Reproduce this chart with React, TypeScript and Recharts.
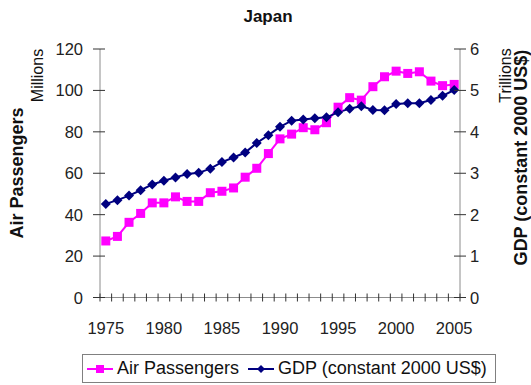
import React from 'react';
import { ComposedChart, Line, XAxis, YAxis, Legend } from 'recharts';

const years = [
    1975, 1976, 1977, 1978, 1979, 1980, 1981, 1982, 1983, 1984, 1985,
    1986, 1987, 1988, 1989, 1990, 1991, 1992, 1993, 1994, 1995,
    1996, 1997, 1998, 1999, 2000, 2001, 2002, 2003, 2004, 2005,
];

// millions of passengers
const airPassengers = [
    27.3, 29.5, 36.3, 40.6, 45.7, 45.7, 48.6, 46.4, 46.4, 50.6, 51.3,
    52.9, 58.1, 62.4, 69.5, 76.6, 78.9, 82.0, 81.0, 84.4, 91.9,
    96.5, 95.3, 101.8, 106.6, 109.3, 108.2, 109.0, 104.5, 102.3, 102.9,
];

// trillions, constant 2000 US$
const gdp = [
    2.26, 2.35, 2.46, 2.59, 2.73, 2.82, 2.90, 2.98, 3.01, 3.11, 3.27,
    3.38, 3.50, 3.73, 3.92, 4.12, 4.27, 4.30, 4.33, 4.35, 4.47,
    4.56, 4.62, 4.53, 4.52, 4.67, 4.69, 4.69, 4.77, 4.87, 5.01,
];

const leftTicks = [0, 20, 40, 60, 80, 100, 120];
const rightTicks = [0, 1, 2, 3, 4, 5, 6];

const data = years.map((year, i) => ({ year, passengers: airPassengers[i], gdp: gdp[i] }));

const FONT = '"Liberation Sans", Arial, sans-serif';
const PINK = '#ff00ff';
const NAVY = '#000080';
const AXIS = '#8c8c8c';
const TICK = '#333333';

const PLOT_W = 360;
const HALF = PLOT_W / (years.length * 2);

const XTick = (props: any) => {
    const { x, y, payload, index } = props;
    return (
        <g>
            <line x1={x - HALF} x2={x - HALF} y1={y - 4} y2={y + 4} stroke={TICK} />
            {index === years.length - 1 && (
                <line x1={x + HALF} x2={x + HALF} y1={y - 4} y2={y + 4} stroke={TICK} />
            )}
            {payload.value % 5 === 0 && (
                <text x={x} y={y + 36} textAnchor="middle" fontSize={16.5} fill="#222" style={{ fontFamily: FONT }}>
                    {payload.value}
                </text>
            )}
        </g>
    );
};

const LeftTick = (props: any) => {
    const { x, y, payload } = props;
    return (
        <g>
            <line x1={x - 7} x2={x + 5} y1={y} y2={y} stroke={TICK} />
            <text x={x - 17} y={y + 6} textAnchor="end" fontSize={16.5} fill="#222" style={{ fontFamily: FONT }}>
                {payload.value}
            </text>
        </g>
    );
};

const RightTick = (props: any) => {
    const { x, y, payload } = props;
    return (
        <g>
            <line x1={x - 6} x2={x + 6} y1={y} y2={y} stroke={TICK} />
            <text x={x + 10} y={y + 6} textAnchor="start" fontSize={16.5} fill="#222" style={{ fontFamily: FONT }}>
                {payload.value}
            </text>
        </g>
    );
};

const SquareDot = (props: any) => {
    const { cx, cy } = props;
    if (cx == null || cy == null) return null;
    return <rect x={cx - 4.5} y={cy - 4.5} width={9} height={9} fill={PINK} />;
};

const DiamondDot = (props: any) => {
    const { cx, cy } = props;
    if (cx == null || cy == null) return null;
    return <polygon points={`${cx},${cy - 5} ${cx + 5},${cy} ${cx},${cy + 5} ${cx - 5},${cy}`} fill={NAVY} />;
};

const LegendBox = () => (
    <div
        style={{
            boxSizing: 'border-box',
            width: 414,
            height: 29,
            border: '1px solid #808080',
            display: 'flex',
            alignItems: 'center',
            fontFamily: FONT,
            fontSize: 18,
            color: '#111',
            paddingLeft: 4,
            whiteSpace: 'nowrap',
        }}
    >
        <svg width={26} height={12} style={{ marginRight: 4 }}>
            <line x1={0} x2={26} y1={6} y2={6} stroke={PINK} strokeWidth={2} />
            <rect x={9} y={2} width={8} height={8} fill={PINK} />
        </svg>
        <span>Air Passengers</span>
        <svg width={26} height={12} style={{ marginLeft: 9, marginRight: 4 }}>
            <line x1={0} x2={26} y1={6} y2={6} stroke={NAVY} strokeWidth={2} />
            <polygon points="13,2 17,6 13,10 9,6" fill={NAVY} />
        </svg>
        <span>GDP (constant 2000 US$)</span>
    </div>
);

export default function App() {
    return (
        <div style={{ position: 'absolute', left: 0, top: 0, width: 531, height: 385, background: '#fff', fontFamily: FONT }}>
            <ComposedChart width={531} height={385} data={data} margin={{ top: 49, right: 0, bottom: 0, left: 0 }}>
                <XAxis
                    dataKey="year"
                    height={87.5}
                    interval={0}
                    padding={{ left: HALF, right: HALF }}
                    tickSize={0}
                    tickMargin={0}
                    tickLine={false}
                    axisLine={{ stroke: AXIS }}
                    tick={<XTick />}
                />
                <YAxis
                    yAxisId="left"
                    width={100}
                    domain={[0, 120]}
                    ticks={leftTicks}
                    tickSize={0}
                    tickMargin={0}
                    tickLine={false}
                    axisLine={{ stroke: AXIS }}
                    tick={<LeftTick />}
                />
                <YAxis
                    yAxisId="right"
                    orientation="right"
                    width={71}
                    domain={[0, 6]}
                    ticks={rightTicks}
                    tickSize={0}
                    tickMargin={0}
                    tickLine={false}
                    axisLine={{ stroke: AXIS }}
                    tick={<RightTick />}
                />
                <Line
                    yAxisId="left"
                    dataKey="passengers"
                    name="Air Passengers"
                    stroke={PINK}
                    strokeWidth={2}
                    dot={<SquareDot />}
                    activeDot={false}
                    isAnimationActive={false}
                />
                <Line
                    yAxisId="right"
                    dataKey="gdp"
                    name="GDP (constant 2000 US$)"
                    stroke={NAVY}
                    strokeWidth={2}
                    dot={<DiamondDot />}
                    activeDot={false}
                    isAnimationActive={false}
                />
                <Legend
                    verticalAlign="middle"
                    align="center"
                    content={<LegendBox />}
                    wrapperStyle={{ top: 354, left: 82, width: 414, height: 29 }}
                />
                <text x={268} y={21.7} textAnchor="middle" fontSize={17} fontWeight="bold" fill="#111" style={{ fontFamily: FONT }}>
                    Japan
                </text>
                <text x={23} y={173} transform="rotate(-90, 23, 173)" textAnchor="middle" fontSize={18} fontWeight="bold" fill="#111" style={{ fontFamily: FONT }}>
                    Air Passengers
                </text>
                <text x={43} y={75.5} transform="rotate(-90, 43, 75.5)" textAnchor="middle" fontSize={16} fill="#111" style={{ fontFamily: FONT }}>
                    Millions
                </text>
                <text x={511} y={75.5} transform="rotate(-90, 511, 75.5)" textAnchor="middle" fontSize={16} fill="#111" style={{ fontFamily: FONT }}>
                    Trillions
                </text>
                <text x={527} y={157.5} transform="rotate(-90, 527, 157.5)" textAnchor="middle" fontSize={18} fontWeight="bold" fill="#111" style={{ fontFamily: FONT }}>
                    GDP (constant 2000 US$)
                </text>
            </ComposedChart>
        </div>
    );
}
